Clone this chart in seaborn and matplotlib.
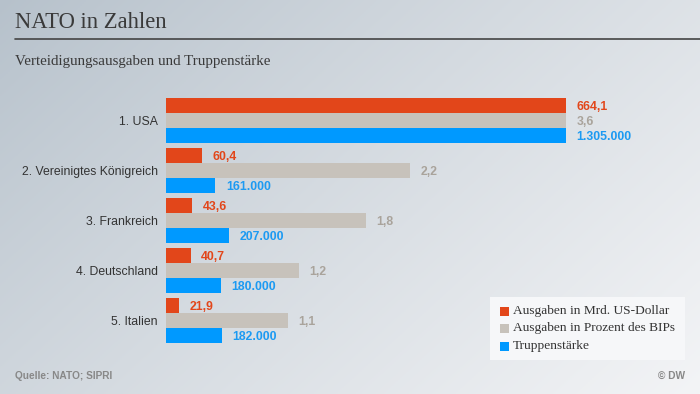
import numpy as np
import pandas as pd
import matplotlib
matplotlib.use("Agg")
import matplotlib.pyplot as plt
import seaborn as sns
from matplotlib.patches import Rectangle

countries = ["1. USA", "2. Vereinigtes Königreich", "3. Frankreich", "4. Deutschland", "5. Italien"]
spending = [664.1, 60.4, 43.6, 40.7, 21.9]          # Mrd. US-Dollar
gdp_share = [3.6, 2.2, 1.8, 1.2, 1.1]               # % des BIP
troops = [1305000, 161000, 207000, 180000, 182000]  # Truppenstärke
series = ["Ausgaben in Mrd. US-Dollar", "Ausgaben in Prozent des BIPs", "Truppenstärke"]
bar_colors = ["#E2461A", "#C7C2BB", "#0099FF"]
text_colors = ["#E2461A", "#A9A39B", "#1C9AF2"]


def de_dec(v):
    return f"{v:.1f}".replace(".", ",")


def de_int(v):
    return f"{v:,}".replace(",", ".")


label_lists = [[de_dec(v) for v in spending], [de_dec(v) for v in gdp_share], [de_int(v) for v in troops]]
raw = [spending, gdp_share, troops]

rows = []
for s, vals in zip(series, raw):
    m = max(vals)
    for c, v in zip(countries, vals):
        rows.append({"country": c, "series": s, "norm": v / m})
df = pd.DataFrame(rows)

sns.set_theme(style="white")
W, H = 700, 394
fig = plt.figure(figsize=(W / 100, H / 100), dpi=100)

# background gradient
bg = fig.add_axes([0, 0, 1, 1], zorder=-10)
xx, yy = np.meshgrid(np.linspace(0, 1, 350), np.linspace(0, 1, 197))
t = np.clip(0.62 * xx + 0.38 * yy, 0, 1) ** 0.9
c0 = np.array([182, 193, 203]) / 255
c1 = np.array([243, 244, 246]) / 255
img = c0[None, None, :] * (1 - t[..., None]) + c1[None, None, :] * t[..., None]
bg.imshow(img, aspect="auto", extent=[0, 1, 0, 1], origin="upper")
bg.set_axis_off()

# main bar axes: x 166..700 px, 1.0 at 566 px; 50 px per category
left_px, right_px = 166, 700
top_px, bot_px = 95.5, 345.5
ax = fig.add_axes([left_px / W, 1 - bot_px / H, (right_px - left_px) / W, (bot_px - top_px) / H])
ax.patch.set_alpha(0)
sns.barplot(data=df, y="country", x="norm", hue="series", hue_order=series,
            palette=bar_colors, orient="h", width=0.9, ax=ax, legend=False,
            saturation=1, linewidth=0)
ax.set_xlim(0, (right_px - left_px) / 400)
ax.set_ylim(4.5, -0.5)
for sp in ax.spines.values():
    sp.set_visible(False)
ax.set_xticks([])
ax.set_xlabel("")
ax.set_ylabel("")
ax.tick_params(axis="y", length=0, pad=6)
for lbl in ax.get_yticklabels():
    lbl.set_fontfamily("Liberation Sans")
    lbl.set_fontsize(8.8)
    lbl.set_color("#333333")

for cont, labels, tc in zip(ax.containers, label_lists, text_colors):
    for patch, lab in zip(cont.patches, labels):
        y = patch.get_y() + patch.get_height() / 2
        x = patch.get_x() + patch.get_width()
        ax.annotate(lab, (x, y), xytext=(7.5, 0), textcoords="offset points",
                    va="center_baseline", ha="left", fontsize=8.8, fontweight="bold",
                    color=tc, family="Liberation Sans")

# title, rule, subtitle
fig.text(15 / W, 1 - 22 / H, "NATO in Zahlen", fontsize=16.3, family="Liberation Serif",
         color="#3a3a3a", va="center", ha="left")
fig.add_artist(plt.Line2D([15 / W, 1], [1 - 39 / H, 1 - 39 / H], color="#444444", lw=1.2))
fig.text(15 / W, 1 - 61 / H, "Verteidigungsausgaben und Truppenstärke", fontsize=10.8,
         family="Liberation Serif", color="#3a3a3a", va="center", ha="left")

# legend box
lx0, ly0, lx1, ly1 = 490, 297, 685, 360
fig.add_artist(Rectangle((lx0 / W, 1 - ly1 / H), (lx1 - lx0) / W, (ly1 - ly0) / H,
                         facecolor="#F6F7F9", edgecolor="none", transform=fig.transFigure))
for i, (s, c) in enumerate(zip(series, bar_colors)):
    yc = 311 + i * 17.5
    fig.add_artist(Rectangle((500 / W, 1 - (yc + 4.5) / H), 9 / W, 9 / H, facecolor=c,
                             edgecolor="none", transform=fig.transFigure))
    fig.text(513 / W, 1 - yc / H, s, fontsize=9.6, family="Liberation Serif", color="#333333",
             va="center", ha="left")

# footer
fig.text(15 / W, 1 - 376 / H, "Quelle: NATO; SIPRI", fontsize=7.3, fontweight="bold",
         family="Liberation Sans", color="#888888", va="center", ha="left")
fig.text(685 / W, 1 - 376 / H, "© DW", fontsize=7.3, fontweight="bold",
         family="Liberation Sans", color="#888888", va="center", ha="right")

fig.savefig("out.png", dpi=100)
